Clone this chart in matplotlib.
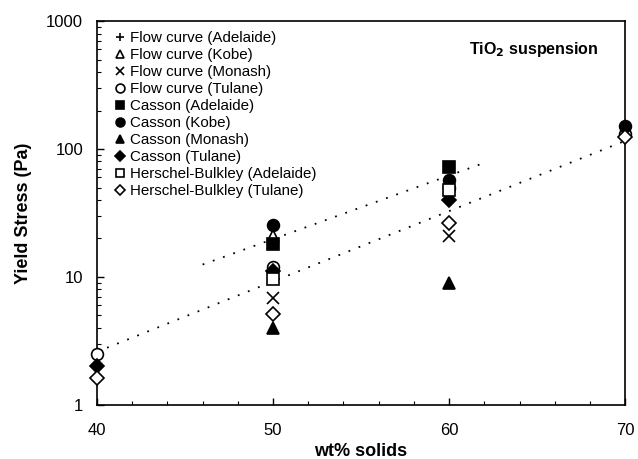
import matplotlib
matplotlib.use("Agg")
import matplotlib.pyplot as plt
from matplotlib.ticker import LogLocator, NullFormatter, MultipleLocator, FixedLocator

plt.rcParams['font.family'] = ['Liberation Sans', 'DejaVu Sans']

# data: (x values, y values) per series
flow_adelaide_x = [50, 60]
flow_adelaide_y = [10.0, 50.0]
flow_kobe_x = [50, 60]
flow_kobe_y = [21.0, 55.0]
flow_monash_x = [50, 60]
flow_monash_y = [6.8, 21.0]
flow_tulane_x = [40, 50, 60, 70]
flow_tulane_y = [2.5, 12.0, 50.0, 130.0]
casson_adelaide_x = [50, 60]
casson_adelaide_y = [18.0, 72.0]
casson_kobe_x = [50, 60, 70]
casson_kobe_y = [25.5, 57.0, 152.0]
casson_monash_x = [50, 60]
casson_monash_y = [4.0, 8.9]
casson_tulane_x = [40, 50, 60]
casson_tulane_y = [2.0, 11.1, 40.0]
hb_adelaide_x = [50, 60]
hb_adelaide_y = [9.7, 48.0]
hb_tulane_x = [40, 50, 60, 70]
hb_tulane_y = [1.63, 5.1, 26.5, 124.0]

trend_upper_x = [46, 62]
trend_upper_y = [12.5, 78.0]
trend_lower_x = [40, 70]
trend_lower_y = [2.6, 116.0]

xticks = [40, 50, 60, 70]
yticks = [1, 10, 100, 1000]

fig = plt.figure(figsize=(6.38, 4.59), dpi=100)
ax = fig.add_axes([0.152, 0.118, 0.828, 0.836])

ax.plot(trend_upper_x, trend_upper_y, linestyle=(0, (1, 5)), color='black', lw=1.3)
ax.plot(trend_lower_x, trend_lower_y, linestyle=(0, (1, 5)), color='black', lw=1.3)

ms = 8.5
series = [
    (flow_adelaide_x, flow_adelaide_y, '+', 'black', 'Flow curve (Adelaide)'),
    (flow_kobe_x, flow_kobe_y, '^', 'white', 'Flow curve (Kobe)'),
    (flow_monash_x, flow_monash_y, 'x', 'black', 'Flow curve (Monash)'),
    (flow_tulane_x, flow_tulane_y, 'o', 'white', 'Flow curve (Tulane)'),
    (casson_adelaide_x, casson_adelaide_y, 's', 'black', 'Casson (Adelaide)'),
    (casson_kobe_x, casson_kobe_y, 'o', 'black', 'Casson (Kobe)'),
    (casson_monash_x, casson_monash_y, '^', 'black', 'Casson (Monash)'),
    (casson_tulane_x, casson_tulane_y, 'D', 'black', 'Casson (Tulane)'),
    (hb_adelaide_x, hb_adelaide_y, 's', 'white', 'Herschel-Bulkley (Adelaide)'),
    (hb_tulane_x, hb_tulane_y, 'D', 'white', 'Herschel-Bulkley (Tulane)'),
]
for xs, ys, m, fc, lab in series:
    size = ms * 0.8 if m == 'D' else ms
    ax.plot(xs, ys, linestyle='none', marker=m, markersize=size,
            markerfacecolor=fc, markeredgecolor='black', markeredgewidth=1.2,
            label=lab, clip_on=False, zorder=3)

ax.set_yscale('log')
ax.set_xlim(40, 70)
ax.set_ylim(1, 1000)
ax.xaxis.set_major_locator(FixedLocator(xticks))
ax.xaxis.set_minor_locator(MultipleLocator(2))
ax.yaxis.set_major_locator(FixedLocator(yticks))
ax.yaxis.set_minor_locator(LogLocator(base=10, subs=range(2, 10)))
ax.yaxis.set_minor_formatter(NullFormatter())
ax.set_yticklabels([str(v) for v in yticks])
ax.tick_params(axis='both', which='both', direction='in', labelsize=12,
               top=False, right=False)
ax.tick_params(which='major', length=5, width=1)
ax.tick_params(which='minor', length=3, width=0.8)
ax.tick_params(axis='x', pad=13)
ax.tick_params(axis='y', pad=10)
for s in ax.spines.values():
    s.set_linewidth(1.2)

ax.set_xlabel('wt% solids', fontsize=13, fontweight='bold', labelpad=4)
ax.set_ylabel('Yield Stress (Pa)', fontsize=13, fontweight='bold', labelpad=10)

ax.text(0.95, 0.95, 'TiO$_\\mathbf{2}$ suspension', transform=ax.transAxes,
        ha='right', va='top', fontsize=11.5, fontweight='bold')

leg = ax.legend(loc='upper left', frameon=False, fontsize=10.9, labelspacing=0.2,
                handlelength=0.8, handletextpad=0.3, bbox_to_anchor=(0.02, 0.99),
                borderaxespad=0.2, borderpad=0.2, markerscale=0.75)

fig.savefig('out.png', dpi=100)
